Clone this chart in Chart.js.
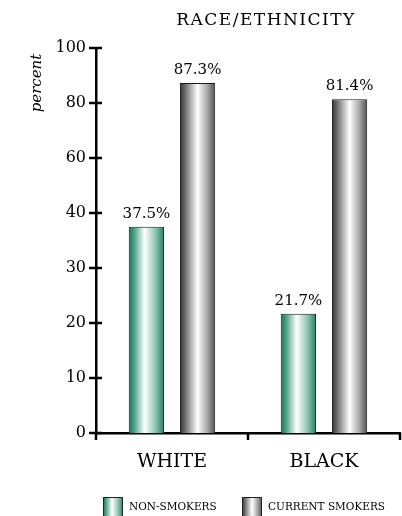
<!DOCTYPE html>
<html>
<head>
<meta charset="utf-8">
<script src="https://cdn.jsdelivr.net/npm/chart.js@4.4.1/dist/chart.umd.min.js"></script>
<style>
  html, body { margin: 0; padding: 0; background: #fff; }
</style>
</head>
<body>
<canvas id="raceChart" width="402" height="516"></canvas>
<script>
const categories = ['WHITE', 'BLACK'];
const seriesNames = ['NON-SMOKERS', 'CURRENT SMOKERS'];
const nonSmokers = [37.5, 21.7];
const currentSmokers = [87.3, 81.4];
const yTicks = [0, 10, 20, 30, 40, 60, 80, 100];

const SERIF = '"DejaVu Serif", serif';
const CAT_PCT = 0.673;
const BAR_PCT = 0.69;

const greenStops = [[0, '#22775c'], [0.12, '#3d957a'], [0.45, '#ffffff'], [0.75, '#8ec6b1'], [1, '#2a7f64']];
const grayStops = [[0, '#333333'], [0.15, '#6e6e6e'], [0.5, '#ffffff'], [0.8, '#a0a0a0'], [1, '#4e4e4e']];

// the value axis runs twice as tall per unit below 40 as above it
const BREAK = 40;
const squash = v => v <= BREAK ? v : BREAK + (v - BREAK) / 2;
const unsquash = d => d <= BREAK ? d : BREAK + (d - BREAK) * 2;

class BrokenScale extends Chart.LinearScale {
  getPixelForValue(value) {
    if (value === null || value === undefined) return NaN;
    const lo = squash(this.min), hi = squash(this.max);
    return this.getPixelForDecimal((squash(value) - lo) / (hi - lo));
  }
  getValueForPixel(pixel) {
    const lo = squash(this.min), hi = squash(this.max);
    return unsquash(lo + this.getDecimalForPixel(pixel) * (hi - lo));
  }
}
BrokenScale.id = 'broken';
BrokenScale.defaults = Chart.LinearScale.defaults;
Chart.register(BrokenScale);

function hGradient(g, stops) {
  stops.forEach(([o, c]) => g.addColorStop(o, c));
  return g;
}

function barFill(stops) {
  return (ctx) => {
    const chart = ctx.chart;
    const xs = chart.scales.x;
    if (!xs || !chart.chartArea) return stops[0][1];
    const slot = (xs.width / categories.length) * CAT_PCT / 2;
    const cx = xs.getPixelForValue(ctx.dataIndex) + (ctx.datasetIndex - 0.5) * slot;
    const half = slot * BAR_PCT / 2;
    return hGradient(chart.ctx.createLinearGradient(cx - half, 0, cx + half, 0), stops);
  };
}

// tick marks that cross the axes, value labels, title, side label and legend
const decorations = {
  id: 'decorations',
  afterDraw(chart) {
    const c = chart.ctx;
    const xs = chart.scales.x, ys = chart.scales.y;
    const area = chart.chartArea;
    c.save();
    c.strokeStyle = '#000';
    c.lineWidth = 2.5;
    c.beginPath();
    ys.ticks.forEach(t => {
      const y = ys.getPixelForValue(t.value);
      c.moveTo(area.left - 7, y);
      c.lineTo(area.left + 6, y);
    });
    const step = xs.width / categories.length;
    for (let i = 0; i <= categories.length; i++) {
      const x = area.left + i * step;
      c.moveTo(x, area.bottom);
      c.lineTo(x, area.bottom + 7);
    }
    c.stroke();

    c.fillStyle = '#000';
    c.textAlign = 'center';
    c.textBaseline = 'alphabetic';
    c.font = '15px ' + SERIF;
    chart.data.datasets.forEach((ds, di) => {
      chart.getDatasetMeta(di).data.forEach((bar, i) => {
        c.fillText(ds.data[i].toFixed(1) + '%', bar.x, bar.y - 9);
      });
    });

    c.font = '17px ' + SERIF;
    c.letterSpacing = '1.5px';
    c.textBaseline = 'middle';
    c.fillText('RACE/ETHNICITY', 266, 21);
    c.letterSpacing = '0px';

    c.save();
    c.translate(37, 83);
    c.rotate(-Math.PI / 2);
    c.font = 'italic 15px ' + SERIF;
    c.fillText('percent', 0, 0);
    c.restore();

    const legend = [[103, greenStops, seriesNames[0]], [242, grayStops, seriesNames[1]]];
    c.font = '10.5px ' + SERIF;
    c.textAlign = 'left';
    legend.forEach(([x, stops, name]) => {
      c.fillStyle = hGradient(c.createLinearGradient(x, 0, x + 20, 0), stops);
      c.fillRect(x, 497, 20, 19);
      c.strokeStyle = '#222';
      c.lineWidth = 1;
      c.strokeRect(x + 0.5, 497.5, 19, 19);
      c.fillStyle = '#000';
      c.fillText(name, x + 26, 507);
    });
    c.restore();
  }
};

new Chart(document.getElementById('raceChart'), {
  type: 'bar',
  data: {
    labels: categories,
    datasets: [
      {
        label: seriesNames[0],
        data: nonSmokers,
        backgroundColor: barFill(greenStops),
        borderColor: '#1a1a1a',
        borderWidth: 1,
        categoryPercentage: CAT_PCT,
        barPercentage: BAR_PCT
      },
      {
        label: seriesNames[1],
        data: currentSmokers,
        backgroundColor: barFill(grayStops),
        borderColor: '#1a1a1a',
        borderWidth: 1,
        categoryPercentage: CAT_PCT,
        barPercentage: BAR_PCT
      }
    ]
  },
  options: {
    responsive: false,
    animation: false,
    layout: { padding: { top: 48, right: 2, bottom: 0, left: 0 } },
    plugins: {
      legend: { display: false },
      title: { display: false },
      tooltip: { enabled: false }
    },
    scales: {
      x: {
        grid: { display: false, drawTicks: false },
        border: { display: true, color: '#000', width: 2.5 },
        ticks: {
          color: '#000',
          padding: 18,
          font: { family: SERIF, size: 19 }
        },
        afterFit: s => { s.height = 83; }
      },
      y: {
        type: 'broken',
        min: 0,
        max: 100,
        grid: { display: false, drawTicks: false },
        border: { display: true, color: '#000', width: 2.5 },
        ticks: {
          color: '#000',
          padding: 10,
          font: { family: SERIF, size: 16 }
        },
        afterBuildTicks: s => { s.ticks = yTicks.map(v => ({ value: v })); },
        afterFit: s => { s.width = 96; }
      }
    }
  },
  plugins: [decorations]
});
</script>
</body>
</html>
